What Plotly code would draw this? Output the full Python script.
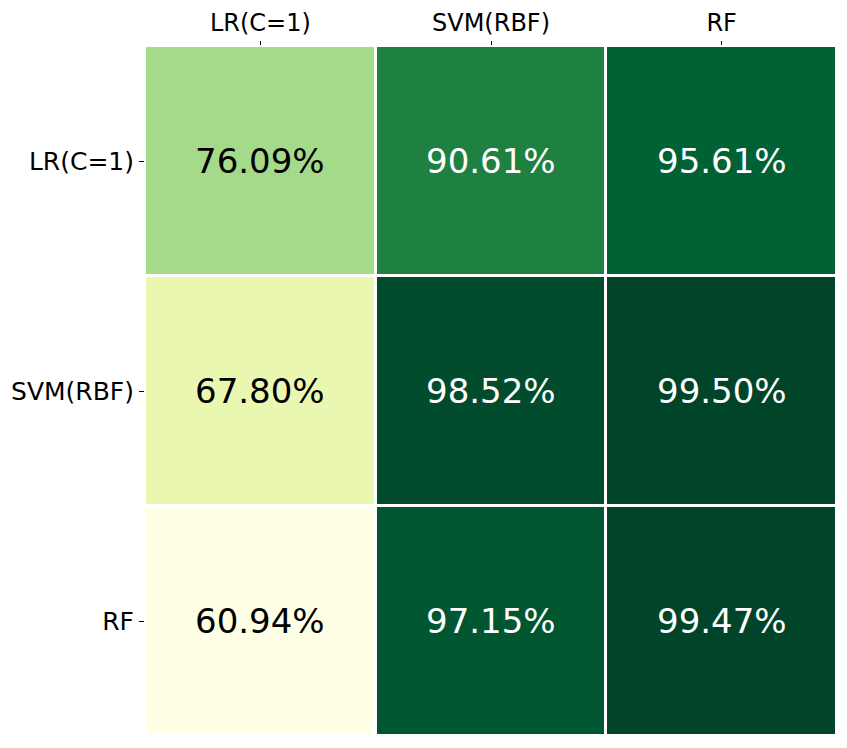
import plotly.graph_objects as go
import plotly.express as px

# models (rows = trained on, columns = tested on)
row_labels = ["LR(C=1)", "SVM(RBF)", "RF"]
col_labels = ["LR(C=1)", "SVM(RBF)", "RF"]

lr_row = [76.09, 90.61, 95.61]
svm_row = [67.80, 98.52, 99.50]
rf_row = [60.94, 97.15, 99.47]

z = [lr_row, svm_row, rf_row]

fig = go.Figure(go.Heatmap(
    z=z,
    x=col_labels,
    y=row_labels,
    colorscale=px.colors.sequential.YlGn,
    showscale=False,
    xgap=3,
    ygap=3,
    hovertemplate="%{y} / %{x}: %{z:.2f}%<extra></extra>",
))

# cell labels, dark text on light cells
zmin = min(min(r) for r in z)
zmax = max(max(r) for r in z)
for i, r in enumerate(z):
    for j, v in enumerate(r):
        light = (v - zmin) / (zmax - zmin) < 0.5
        fig.add_annotation(
            x=col_labels[j], y=row_labels[i],
            text=f"{v:.2f}%", showarrow=False,
            font=dict(size=34, color="black" if light else "white"),
        )

fig.update_xaxes(side="top", ticks="outside", ticklen=4, tickcolor="black",
                 tickfont=dict(size=24),
                 showgrid=False, zeroline=False, showline=False, automargin=False)
fig.update_yaxes(autorange="reversed", ticks="outside", ticklen=5, tickcolor="black",
                 showgrid=False, zeroline=False, showline=False, automargin=False)

# page body adds 8px, so the figure is a bit smaller than the window
fig.update_layout(
    width=839, height=740,
    margin=dict(l=137, r=10, t=38, b=12),
    plot_bgcolor="white",
    paper_bgcolor="white",
    font=dict(family="DejaVu Sans", size=25, color="black"),
)

fig.write_html("out.html")
